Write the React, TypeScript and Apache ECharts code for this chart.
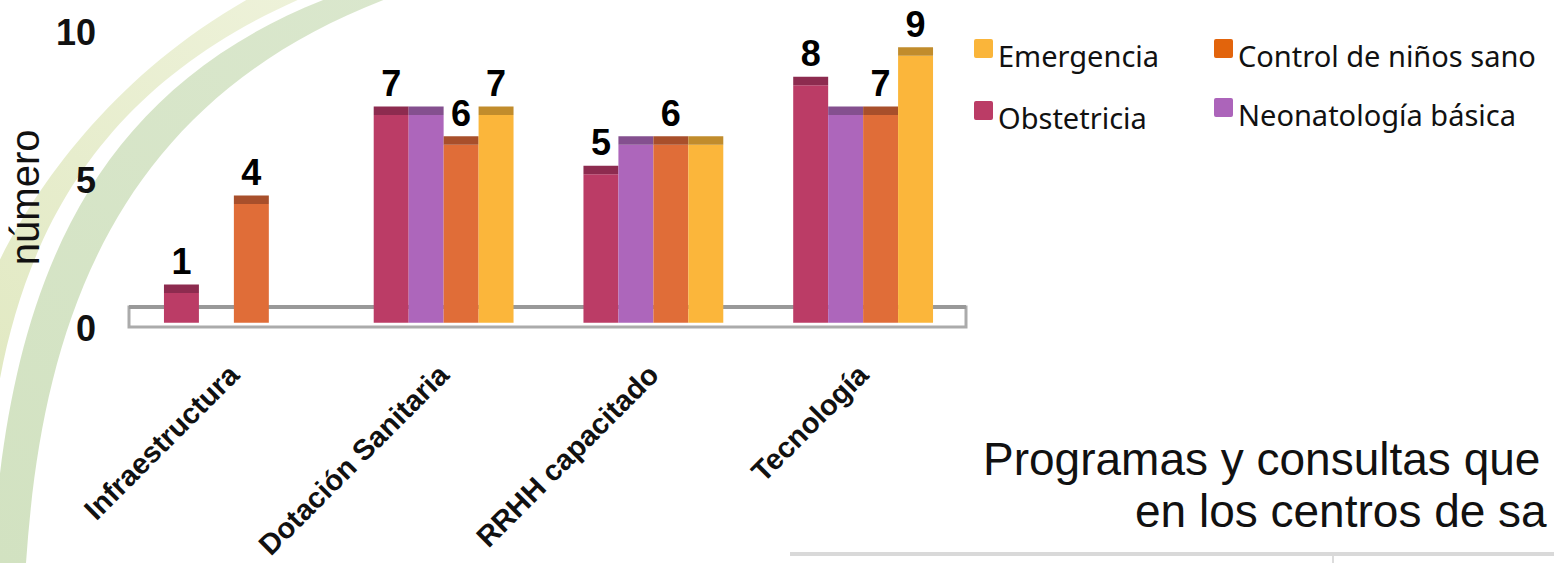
import React, { useEffect, useRef } from "react";
import * as echarts from "echarts";

// ---- data ----
const categories = ["Infraestructura", "Dotación Sanitaria", "RRHH capacitado", "Tecnología"];
const seriesNames = ["Obstetricia", "Neonatología básica", "Control de niños sano", "Emergencia"];
const obstetricia: (number | null)[] = [1, 7, 5, 8];
const neonatologia: (number | null)[] = [null, 7, 6, 7];
const controlNinos: (number | null)[] = [4, 6, 6, 7];
const emergencia: (number | null)[] = [null, 7, 6, 9];
// bars that carry a value label
const obstetriciaLabels = [true, true, true, true];
const neonatologiaLabels = [false, false, false, false];
const controlLabels = [true, true, true, true];
const emergenciaLabels = [false, true, false, true];
const yTicks = [0, 5, 10];
const yTitle = "número";
const titleLines = ["Programas y consultas que", "en los centros de sa"];

// ---- layout ----
const W = 1554;
const H = 563;
const GRID_LEFT = 129;
const GRID_RIGHT_X = 968;
const GRID_TOP = 26;
const BASE_Y = 322.7;
const CAP_H = 8.5;

const FONT = '"Liberation Sans", Arial, sans-serif';

const front = ["#bb3c66", "#ad66bb", "#e06d38", "#fbb63b"];
const caps = ["#8d2b4f", "#84508f", "#a84f2b", "#c18c2c"];
const legendColors = ["#bb3c66", "#ac64ba", "#e2640c", "#fab53a"];

const seriesValues = [obstetricia, neonatologia, controlNinos, emergencia];
const seriesLabels = [obstetriciaLabels, neonatologiaLabels, controlLabels, emergenciaLabels];

// decorative swooshes behind the plot (tapering bands, outer edge then inner edge)
echarts.graphic.registerShape(
  "swooshLight",
  echarts.graphic.extendPath("M-30,330 C0,240 100,50 330,-40 L410,-40 C90,50 -5,250 -15,520 Z", {})
);
echarts.graphic.registerShape(
  "swooshDark",
  echarts.graphic.extendPath("M-8,563 C8,300 80,50 420,-30 L480,-30 C110,60 42,330 26,563 Z", {})
);

function makeRenderer(slot: number) {
  return (params: any, api: any) => {
    const cat = api.value(0);
    const val = api.value(1);
    const band = api.size([1, 0])[0];
    const barW = band / 6;
    const base = api.coord([cat, 0]);
    const top = api.coord([cat, val]);
    const x = base[0] + (slot - 2) * barW;
    const children: any[] = [
      {
        type: "rect",
        shape: { x, y: top[1], width: barW, height: base[1] - top[1] },
        style: { fill: front[slot] },
      },
      {
        type: "rect",
        shape: { x, y: top[1] - CAP_H, width: barW, height: CAP_H },
        style: { fill: caps[slot] },
      },
    ];
    if (seriesLabels[slot][cat]) {
      children.push({
        type: "text",
        x: x + barW / 2,
        y: top[1] - CAP_H - 5,
        style: {
          text: String(val),
          fill: "#000",
          fontSize: 36,
          fontWeight: "bold",
          fontFamily: FONT,
          align: "center",
          verticalAlign: "bottom",
        },
      });
    }
    return { type: "group", children };
  };
}

// rounded square on top, an empty point below it so the text sits lower than the swatch
const legendIcon =
  "path://M2,0H17Q19,0 19,2V17Q19,19 17,19H2Q0,19 0,17V2Q0,0 2,0Z M0,33 L0.01,33";
function legendAt(name: string, color: string, left: number, top: number) {
  return {
    data: [{ name, itemStyle: { color } }],
    left,
    top,
    padding: 0,
    icon: legendIcon,
    itemWidth: 19,
    itemHeight: 33,
    selectedMode: false,
    textStyle: {
      fontFamily: '"Noto Sans", sans-serif',
      fontSize: 29,
      color: "#111",
    },
  };
}

export default function App() {
  const ref = useRef<HTMLDivElement>(null);

  useEffect(() => {
    const chart = echarts.init(ref.current!, null, { renderer: "svg" });
    const option: any = {
      animation: false,
      backgroundColor: "#fff",
      grid: {
        left: GRID_LEFT,
        right: W - GRID_RIGHT_X,
        top: GRID_TOP,
        bottom: H - BASE_Y,
        containLabel: false,
        outerBoundsMode: "none",
      },
      xAxis: {
        type: "category",
        data: categories,
        axisLine: { show: false },
        axisTick: { show: false },
        axisLabel: {
          interval: 0,
          rotate: 45,
          margin: 47,
          fontSize: 29,
          fontWeight: "bold",
          fontFamily: FONT,
          color: "#111",
        },
      },
      yAxis: {
        type: "value",
        min: yTicks[0],
        max: yTicks[yTicks.length - 1],
        interval: yTicks[1] - yTicks[0],
        splitLine: { show: false },
        axisLine: { show: false },
        axisTick: { show: false },
        axisLabel: {
          margin: 33,
          fontSize: 36,
          fontWeight: "bold",
          fontFamily: FONT,
          color: "#111",
          verticalAlign: "top",
          lineHeight: 12,
        },
        name: yTitle,
        nameLocation: "middle",
        nameRotate: 90,
        nameGap: 70,
        nameTextStyle: {
          fontSize: 40,
          fontFamily: FONT,
          color: "#111",
          padding: [0, 46, 0, 0],
        },
      },
      legend: [
        legendAt(seriesNames[3], legendColors[3], 974, 39),
        legendAt(seriesNames[0], legendColors[0], 974, 101),
        legendAt(seriesNames[2], legendColors[2], 1214, 39),
        legendAt(seriesNames[1], legendColors[1], 1214, 98),
      ],
      graphic: [
        {
          type: "swooshLight",
          z: -10,
          silent: true,
          style: {
            fill: new echarts.graphic.LinearGradient(0, 450, 330, 0, [
              { offset: 0, color: "#e0e8c0" },
              { offset: 1, color: "#eef2da" },
            ], true),
          },
        },
        {
          type: "swooshDark",
          z: -10,
          silent: true,
          style: {
            fill: new echarts.graphic.LinearGradient(0, 563, 420, 0, [
              { offset: 0, color: "#d2e2c1" },
              { offset: 1, color: "#dae7cd" },
            ], true),
          },
        },
        // floor of the plot
        {
          type: "rect",
          z: 0,
          silent: true,
          shape: { x: GRID_LEFT, y: 307, width: GRID_RIGHT_X - 2 - GRID_LEFT, height: 20 },
          style: { fill: "#fff", stroke: "#ababab", lineWidth: 3 },
        },
        {
          type: "line",
          z: 0,
          silent: true,
          shape: { x1: GRID_LEFT, y1: 307, x2: GRID_RIGHT_X - 2, y2: 307 },
          style: { stroke: "#999", lineWidth: 4 },
        },
        // heading below the legend
        {
          type: "text",
          left: 983,
          top: 436,
          style: { text: titleLines[0], fontSize: 46, fontFamily: FONT, fill: "#111" },
        },
        {
          type: "text",
          left: 1135,
          top: 488,
          style: { text: titleLines[1], fontSize: 46, fontFamily: FONT, fill: "#111" },
        },
        {
          type: "line",
          silent: true,
          shape: { x1: 790, y1: 554, x2: W, y2: 554 },
          style: { stroke: "#d9d9d9", lineWidth: 4 },
        },
        {
          type: "line",
          silent: true,
          shape: { x1: 1333, y1: 556, x2: 1333, y2: H },
          style: { stroke: "#dcdcdc", lineWidth: 2 },
        },
      ],
      series: seriesNames.map((name, slot) => ({
        type: "custom",
        name,
        z: 5,
        clip: false,
        itemStyle: { color: legendColors[slot] },
        encode: { x: 0, y: 1 },
        data: seriesValues[slot]
          .map((v, i) => (v == null ? null : [i, v]))
          .filter((d) => d !== null),
        renderItem: makeRenderer(slot),
      })),
    };
    chart.setOption(option);
    return () => chart.dispose();
  }, []);

  return (
    <div
      ref={ref}
      style={{ position: "fixed", left: 0, top: 0, width: W, height: H, background: "#fff" }}
    />
  );
}
